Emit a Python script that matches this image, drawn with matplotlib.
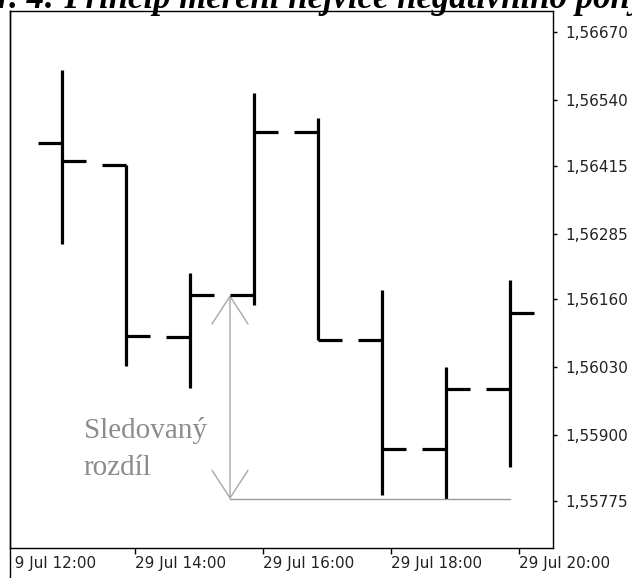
import matplotlib
matplotlib.use('Agg')

import numpy as np
import matplotlib.pyplot as plt
from matplotlib.lines import Line2D
from matplotlib.patches import FancyArrowPatch
from matplotlib.transforms import Bbox, TransformedBbox, ScaledTranslation

# hourly OHLC bars, 29 Jul
hours = np.array([13, 14, 15, 16, 17, 18, 19, 20])
opens = np.array([1.56458, 1.56416, 1.56088, 1.56168, 1.56479, 1.56082, 1.55874, 1.55989])
highs = np.array([1.56597, 1.56416, 1.56210, 1.56554, 1.56506, 1.56178, 1.56031, 1.56197])
lows = np.array([1.56265, 1.56033, 1.55991, 1.56149, 1.56082, 1.55787, 1.55778, 1.55840])
closes = np.array([1.56424, 1.56090, 1.56168, 1.56479, 1.56082, 1.55874, 1.55989, 1.56134])

price_ticks = [1.56670, 1.56540, 1.56415, 1.56285, 1.56160, 1.56030, 1.55900, 1.55775]
time_ticks = [12, 14, 16, 18, 20]
time_labels = ['29 Jul 12:00', '29 Jul 14:00', '29 Jul 16:00', '29 Jul 18:00', '29 Jul 20:00']

title = 'Obr. 4: Princip měření nejvíce negativního pohybu'
note = 'Sledovaný\nrozdíl'
start_bar = 3  # bar whose open the distance is measured from

W, H = 632, 578
TICK = 0.375       # open/close tick length in hours
LABEL_SHIFT = 0.14  # time labels sit a little right of the bar

fig = plt.figure(figsize=(W / 100, H / 100), dpi=100)
ax = fig.add_axes([10 / W, 30 / H, 543 / W, 537 / H])

ax.vlines(hours, lows, highs, color='black', lw=2.3)
ax.hlines(opens, hours - TICK, hours, color='black', lw=2.3)
ax.hlines(closes, hours, hours + TICK, color='black', lw=2.3)

# measured drop from the open of the start bar to the lowest low after it
x0 = hours[start_bar] - TICK
top = opens[start_bar]
bottom = lows[start_bar:].min()
ax.plot([x0, hours[-1]], [bottom, bottom], color='#999999', lw=1)
arrow = FancyArrowPatch((x0, bottom), (x0, top),
                        arrowstyle='<->,head_length=2.0,head_width=1.3',
                        mutation_scale=10, color='#a8a8a8', lw=1,
                        shrinkA=0, shrinkB=0)
ax.add_patch(arrow)
# baseline of a multi-line text is that of its last line
ax.text(13.34, 1.55825, note, family='Liberation Serif', fontsize=21,
        color='#8c8c8c', va='baseline', ha='left', linespacing=1.55)

ax.set_xlim(12.1875, 20.672)
ax.set_ylim(1.55685, 1.56710)

ax.yaxis.tick_right()
ax.set_yticks(price_ticks)
ax.set_yticklabels([f'{v:.5f}'.replace('.', ',') for v in price_ticks])
ax.tick_params(axis='y', direction='out', length=3, width=1, pad=6,
               labelsize=11, labelcolor='#222222')

xt = [t + LABEL_SHIFT for t in time_ticks]
ax.set_xticks(xt[1:])
ax.set_xticklabels(time_labels[1:])
ax.tick_params(axis='x', direction='out', length=4, width=1, pad=2,
               labelsize=11, labelcolor='#222222')
for lab in ax.get_xticklabels():
    lab.set_ha('left')

# first time label falls left of the window, so it is clipped by the frame
off = ScaledTranslation(-2 / 100, -6 / 72, fig.dpi_scale_trans)
t = fig.text(xt[0], 0, time_labels[0], transform=ax.get_xaxis_transform() + off,
             ha='left', va='top', fontsize=11, color='#222222')
t.set_clip_box(TransformedBbox(Bbox([[13 / W, 0], [1, 1]]), fig.transFigure))
t.set_clip_on(True)

for s in ax.spines.values():
    s.set_linewidth(1)
fig.add_artist(Line2D([10 / W, 10 / W], [0, 567 / H], transform=fig.transFigure,
                      color='black', lw=1))

fig.text(-45 / W, 1 - 8 / H, title, family='Liberation Serif', weight='bold',
         style='italic', fontsize=25, va='baseline', ha='left')

fig.savefig('out.png', dpi=100)
